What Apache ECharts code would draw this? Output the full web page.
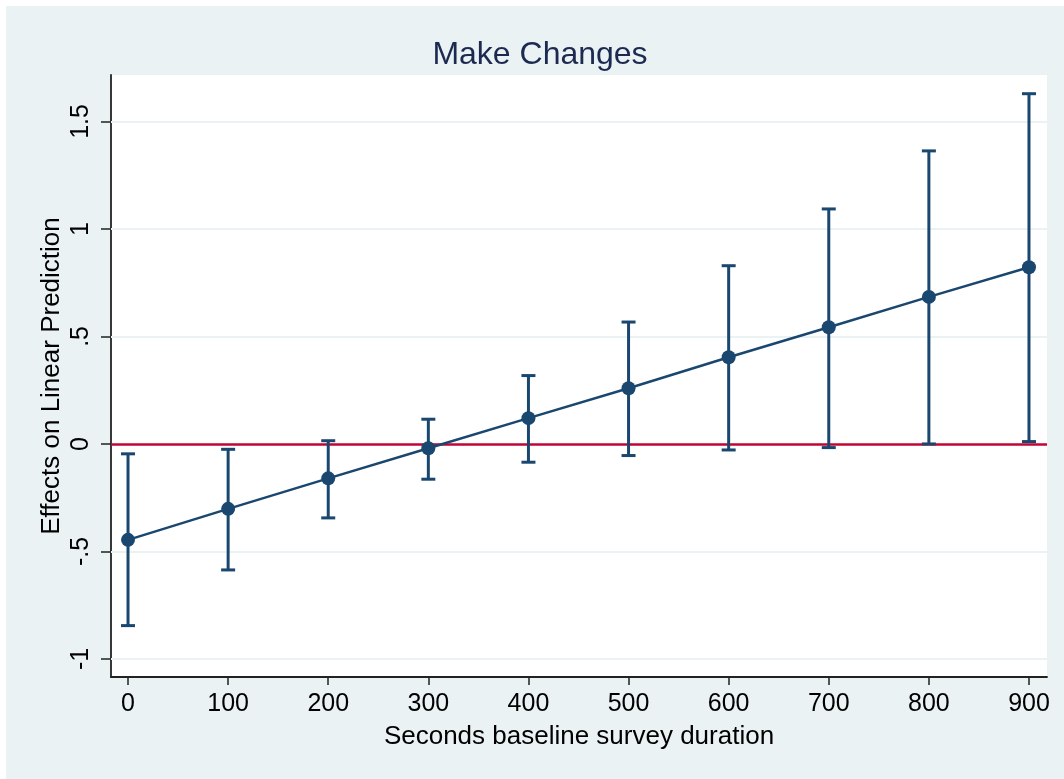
<!DOCTYPE html>
<html>
<head>
<meta charset="utf-8">
<script src="https://cdn.jsdelivr.net/npm/echarts@6/dist/echarts.min.js"></script>
<style>
html,body{margin:0;padding:0;background:#ffffff;}
#chart{position:absolute;left:6px;top:6px;width:1058px;height:773px;background:#eaf2f3;}
</style>
</head>
<body>
<div id="chart"></div>
<script>
// Data
var xValues = [0, 100, 200, 300, 400, 500, 600, 700, 800, 900];
var estimates = [-0.446, -0.302, -0.160, -0.020, 0.120, 0.259, 0.403, 0.543, 0.684, 0.822];
var lowerCI = [-0.845, -0.586, -0.344, -0.164, -0.085, -0.054, -0.028, -0.017, 0.000, 0.011];
var upperCI = [-0.046, -0.025, 0.015, 0.115, 0.318, 0.567, 0.829, 1.093, 1.363, 1.629];
var xTicks = [0, 100, 200, 300, 400, 500, 600, 700, 800, 900];
var yTicks = [-1, -0.5, 0, 0.5, 1, 1.5];
var yGrid = [-1, -0.5, 0.5, 1, 1.5];

var navy = '#1a476f';
var font = 'Liberation Sans, Arial, Helvetica, sans-serif';

function stataNum(v) {
  var s = String(v);
  s = s.replace(/^0\./, '.').replace(/^-0\./, '-.');
  return s;
}

var chart = echarts.init(document.getElementById('chart'));

var barData = xValues.map(function (x, i) { return [x, lowerCI[i], upperCI[i]]; });
var lineData = xValues.map(function (x, i) { return [x, estimates[i]]; });

chart.setOption({
  backgroundColor: '#eaf2f3',
  animation: false,
  title: {
    text: 'Make Changes',
    left: 529,
    textAlign: 'center',
    top: 28,
    textStyle: { fontFamily: font, fontSize: 32, fontWeight: 'normal', color: '#1c2a52' }
  },
  grid: {
    left: 105, top: 69, right: 17, bottom: 102,
    show: true, backgroundColor: '#ffffff', borderWidth: 0
  },
  xAxis: {
    type: 'value',
    min: -17, max: 918,
    name: 'Seconds baseline survey duration',
    nameLocation: 'middle',
    nameMoveOverlap: false,
    nameGap: 47,
    nameTextStyle: { fontFamily: font, fontSize: 26, color: '#000' },
    axisLine: { show: true, onZero: false, lineStyle: { color: '#222', width: 1.8 } },
    axisTick: { show: true, length: 8, customValues: xTicks, lineStyle: { color: '#222', width: 1.5 } },
    axisLabel: { customValues: xTicks, margin: 15, fontFamily: font, fontSize: 25, color: '#000' },
    splitLine: { show: false }
  },
  yAxis: {
    type: 'value',
    min: -1.084, max: 1.716,
    name: 'Effects on Linear Prediction',
    nameLocation: 'middle',
    nameMoveOverlap: false,
    nameGap: 46,
    nameTextStyle: { fontFamily: font, fontSize: 26, color: '#000' },
    axisLine: { show: true, onZero: false, lineStyle: { color: '#222', width: 1.8 } },
    axisTick: { show: true, length: 10, customValues: yTicks, lineStyle: { color: '#222', width: 1.5 } },
    axisLabel: {
      customValues: yTicks, rotate: 90, margin: 17,
      fontFamily: font, fontSize: 25, color: '#000',
      formatter: function (v) { return stataNum(v); }
    },
    splitLine: { show: false }
  },
  series: [
    {
      type: 'line',
      data: [],
      silent: true,
      z: 1,
      markLine: {
        silent: true,
        z: 1,
        symbol: 'none',
        label: { show: false },
        animation: false,
        data: yGrid.map(function (v) { return { yAxis: v, lineStyle: { color: '#eaf2f3', width: 1.8, type: 'solid' } }; })
          .concat([{ yAxis: 0, lineStyle: { color: '#c10534', width: 2.5, type: 'solid' } }])
      }
    },
    {
      type: 'custom',
      data: barData,
      z: 10,
      renderItem: function (params, api) {
        var x = api.value(0);
        var lo = api.coord([x, api.value(1)]);
        var hi = api.coord([x, api.value(2)]);
        var hw = 7;
        var st = { stroke: navy, lineWidth: 3 };
        return {
          type: 'group',
          children: [
            { type: 'line', shape: { x1: lo[0], y1: lo[1], x2: hi[0], y2: hi[1] }, style: st },
            { type: 'line', shape: { x1: lo[0] - hw, y1: lo[1], x2: lo[0] + hw, y2: lo[1] }, style: st },
            { type: 'line', shape: { x1: hi[0] - hw, y1: hi[1], x2: hi[0] + hw, y2: hi[1] }, style: st }
          ]
        };
      }
    },
    {
      type: 'line',
      data: lineData,
      z: 11,
      symbol: 'circle',
      symbolSize: 14,
      itemStyle: { color: navy },
      lineStyle: { color: navy, width: 2.5 }
    }
  ]
});
</script>
</body>
</html>
